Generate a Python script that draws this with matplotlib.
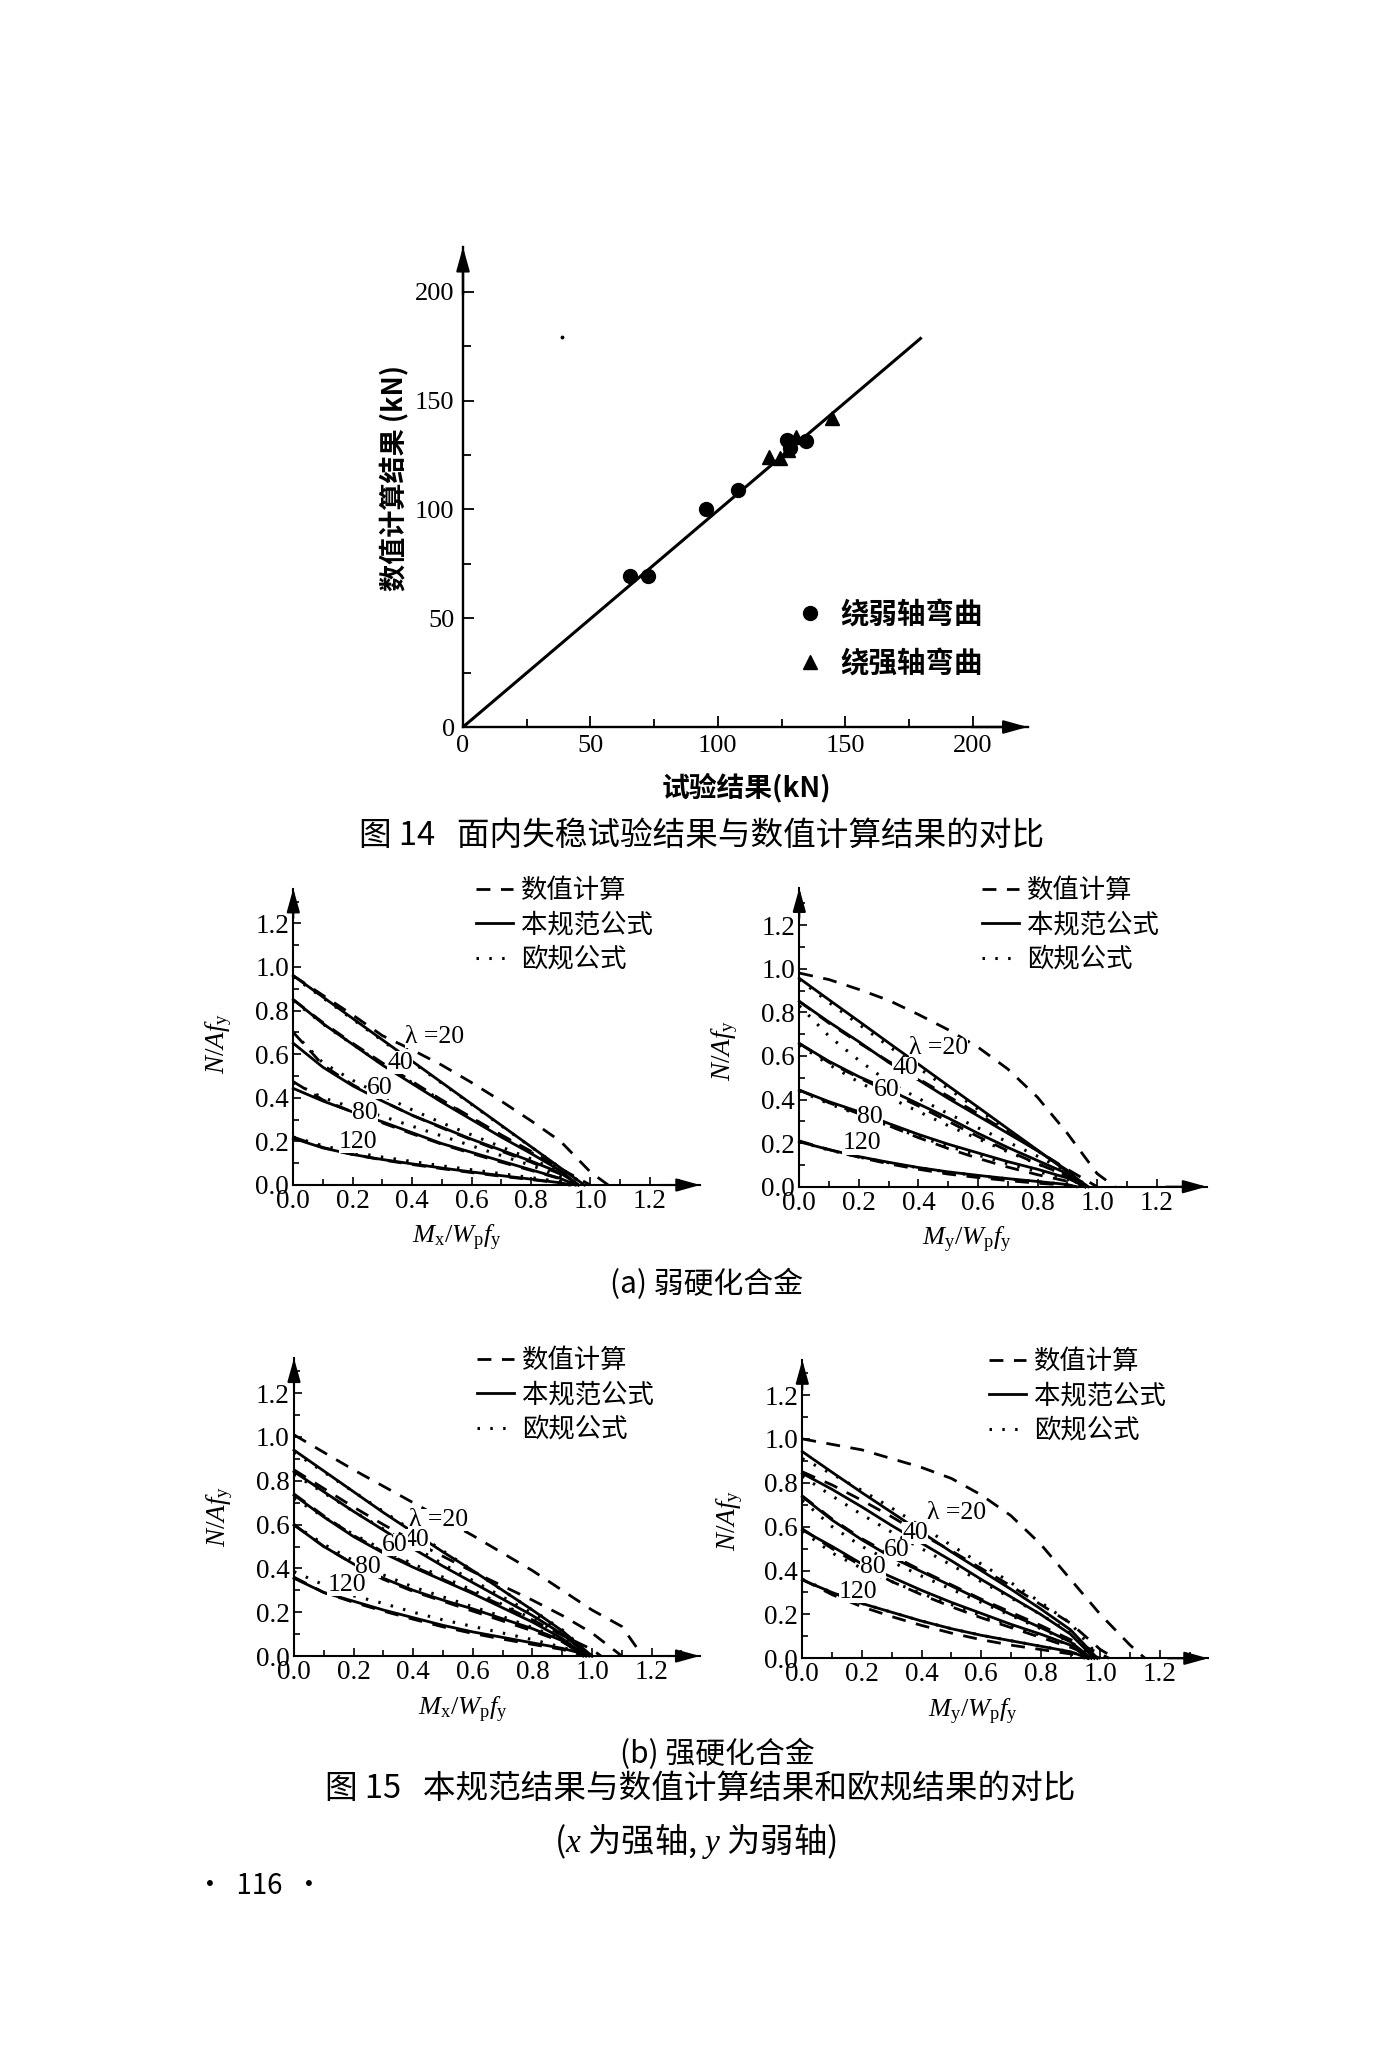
import matplotlib
matplotlib.use('Agg')
import matplotlib.pyplot as plt
from matplotlib.lines import Line2D
from matplotlib.ticker import MultipleLocator, FormatStrFormatter

plt.rcParams['font.family'] = ['Noto Sans CJK SC', 'DejaVu Sans']
plt.rcParams['mathtext.fontset'] = 'custom'
plt.rcParams['mathtext.rm'] = 'Liberation Serif'
plt.rcParams['mathtext.it'] = 'Liberation Serif:italic'
plt.rcParams['mathtext.bf'] = 'Liberation Serif:bold'
plt.rcParams['axes.unicode_minus'] = False
SERIF = ['Liberation Serif', 'DejaVu Serif']
CJK = ['Noto Sans CJK SC', 'DejaVu Sans']

# ---------------- Figure 14 data ----------------
WEAK_X = [65.6, 72.6, 95.5, 107.8, 127.0, 128.5, 134.6]
WEAK_Y = [69.4, 69.4, 100.2, 109.0, 131.8, 128.0, 131.3]
STRONG_X = [120.1, 124.5, 127.5, 130.5, 144.8]
STRONG_Y = [123.9, 123.5, 127.5, 133.2, 142.0]
FIT_X = [0, 180]
FIT_Y = [0, 179]
SPECK_X = [39]
SPECK_Y = [179]
TOP_TICKS = [0, 50, 100, 150, 200]
TOP_LEGEND = ['绕弱轴弯曲', '绕强轴弯曲']

# ---------------- Figure 15 data ----------------
GRID = [0.0, 0.1, 0.2, 0.3, 0.4, 0.5, 0.6, 0.7, 0.8, 0.9, 1.0, 1.1]
LAMBDAS = [20, 40, 60, 80, 120]
SERIES_LABELS = ['数值计算', '本规范公式', '欧规公式']
PANEL_TICKS = [0.0, 0.2, 0.4, 0.6, 0.8, 1.0, 1.2]

# (a) weak hardening, Mx
A_MX_CODE = {20: [.96, .862, .764, .666, .568, .470, .372, .274, .176, .078],
             40: [.85, .74, .645, .55, .465, .38, .30, .22, .145, .065],
             60: [.65, .54, .455, .385, .32, .265, .21, .16, .11, .055],
             80: [.443, .385, .335, .29, .24, .19, .15, .11, .07, .03],
             120: [.214, .17, .14, .117, .097, .078, .06, .043, .027, .01]}
A_MX_CODE_END = {20: .98, 40: .96, 60: .96, 80: .95, 120: .93}
A_MX_NUM = {20: [.96, .87, .78, .685, .62, .55, .47, .385, .295, .20, .06],
            40: [.85, .745, .65, .56, .475, .39, .31, .23, .155, .075],
            60: [.70, .55, .46, .385, .32, .262, .207, .155, .105, .05],
            80: [.474, .39, .335, .285, .235, .187, .145, .105, .067, .028],
            120: [.22, .172, .14, .115, .094, .075, .057, .04, .025, .009]}
A_MX_NUM_END = {20: 1.06, 40: 1.0, 60: .95, 80: .95, 120: .93}
A_MX_EC = {20: [.955, .858, .76, .662, .564, .467, .37, .272, .175, .078],
           40: [.845, .738, .645, .553, .47, .387, .307, .228, .15, .07],
           60: [.70, .56, .48, .41, .345, .285, .23, .175, .12, .06],
           80: [.47, .40, .355, .315, .27, .225, .18, .135, .09, .04],
           120: [.22, .18, .15, .128, .108, .088, .07, .052, .034, .015]}
A_MX_EC_END = {20: .98, 40: .96, 60: .95, 80: .95, 120: .93}

# (a) weak hardening, My
A_MY_CODE = {20: [.956, .857, .759, .66, .562, .463, .365, .266, .168, .069],
             40: [.85, .755, .665, .57, .49, .405, .325, .245, .165, .075],
             60: [.657, .575, .505, .445, .38, .315, .245, .18, .12, .06],
             80: [.443, .39, .344, .29, .24, .195, .155, .115, .08, .04],
             120: [.206, .17, .138, .112, .088, .068, .052, .037, .024, .01]}
A_MY_CODE_END = {20: .97, 40: .96, 60: .96, 80: .96, 120: .93}
A_MY_NUM = {20: [.98, .95, .905, .855, .79, .72, .64, .54, .41, .245, .06],
            40: [.85, .75, .66, .575, .495, .415, .335, .25, .165, .08],
            60: [.657, .57, .50, .435, .37, .30, .23, .165, .105, .05],
            80: [.443, .385, .335, .28, .225, .175, .13, .09, .055, .025],
            120: [.21, .17, .135, .105, .08, .058, .042, .028, .016, .007]}
A_MY_NUM_END = {20: 1.06, 40: 1.0, 60: .95, 80: .93, 120: .92}
A_MY_EC = {20: [.95, .845, .745, .645, .545, .45, .355, .26, .165, .07],
           40: [.83, .69, .58, .48, .405, .335, .27, .205, .14, .07],
           60: [.65, .56, .48, .41, .345, .28, .22, .16, .105, .05],
           80: [.44, .38, .33, .28, .23, .185, .145, .105, .07, .035],
           120: [.206, .168, .136, .11, .087, .067, .05, .036, .023, .01]}
A_MY_EC_END = {20: .97, 40: .96, 60: .95, 80: .95, 120: .93}

# (b) strong hardening, Mx
B_MX_CODE = {20: [.94, .845, .75, .655, .565, .475, .39, .30, .21, .115],
             40: [.842, .75, .66, .575, .49, .41, .335, .26, .185, .10],
             60: [.735, .635, .545, .47, .405, .345, .285, .22, .155, .08],
             80: [.598, .50, .42, .355, .30, .255, .215, .17, .125, .07],
             120: [.355, .29, .25, .21, .175, .14, .11, .085, .06, .035]}
B_MX_CODE_END = {20: 1.0, 40: .99, 60: .98, 80: .97, 120: 1.0}
B_MX_NUM = {20: [1.01, .93, .85, .775, .70, .625, .55, .47, .39, .30, .21, .135],
            40: [.85, .765, .68, .60, .525, .455, .385, .32, .255, .185, .105],
            60: [.74, .64, .55, .475, .41, .35, .29, .23, .165, .095, .03],
            80: [.60, .50, .42, .35, .295, .25, .205, .16, .115, .065],
            120: [.36, .29, .245, .205, .168, .133, .103, .077, .053, .03]}
B_MX_NUM_END = {20: 1.17, 40: 1.1, 60: 1.03, 80: .98, 120: .98}
B_MX_EC = {20: [.93, .84, .75, .66, .57, .48, .39, .30, .21, .12],
           40: [.83, .745, .66, .58, .50, .42, .345, .27, .195, .11],
           60: [.72, .635, .555, .485, .42, .36, .30, .235, .17, .095],
           80: [.60, .51, .435, .37, .315, .27, .225, .18, .13, .075],
           120: [.385, .325, .275, .24, .20, .165, .135, .105, .075, .04]}
B_MX_EC_END = {20: 1.0, 40: .99, 60: .99, 80: .98, 120: .99}

# (b) strong hardening, My
B_MY_CODE = {20: [.942, .848, .755, .665, .575, .485, .40, .315, .225, .13],
             40: [.843, .77, .69, .605, .525, .445, .36, .28, .20, .11],
             60: [.737, .63, .54, .46, .395, .33, .265, .20, .14, .075],
             80: [.585, .51, .43, .37, .31, .255, .205, .155, .11, .06],
             120: [.357, .30, .25, .21, .17, .135, .105, .08, .055, .03]}
B_MY_CODE_END = {20: .99, 40: .98, 60: .97, 80: .96, 120: .96}
B_MY_NUM = {20: [1.0, .975, .95, .91, .87, .82, .745, .65, .52, .36, .20, .06],
            40: [.85, .79, .72, .645, .565, .49, .41, .33, .245, .16, .04],
            60: [.74, .635, .545, .47, .40, .335, .27, .21, .15, .085, .02],
            80: [.59, .50, .42, .35, .29, .235, .185, .14, .095, .05],
            120: [.36, .29, .235, .19, .15, .115, .085, .06, .04, .02]}
B_MY_NUM_END = {20: 1.15, 40: 1.05, 60: 1.03, 80: 1.0, 120: .95}
B_MY_EC = {20: [.91, .84, .765, .685, .60, .515, .43, .345, .255, .16],
           40: [.83, .74, .655, .575, .50, .425, .35, .275, .20, .115],
           60: [.72, .60, .51, .44, .375, .315, .255, .195, .135, .075],
           80: [.58, .48, .41, .35, .295, .245, .195, .15, .105, .06],
           120: [.36, .30, .25, .21, .17, .135, .105, .08, .055, .03]}
B_MY_EC_END = {20: 1.0, 40: .99, 60: .98, 80: .97, 120: .96}

# ---------------- layout helpers (full-size pixel coords) ----------------
W, H = 1374, 2048
fig = plt.figure(figsize=(W / 100, H / 100), dpi=100)
fig.patch.set_facecolor('white')


def fx(px):
    return px / W


def fy(py):
    return 1 - py / H


def add_axes_px(left, bottom, width, height):
    return fig.add_axes([fx(left), fy(bottom), width / W, height / H])


def arrow_axes(ax, lw=1.5):
    for s in ['top', 'right']:
        ax.spines[s].set_visible(False)
    for s in ['left', 'bottom']:
        ax.spines[s].set_linewidth(lw)
    style = '-|>,head_length=0.9,head_width=0.25'
    ax.annotate('', xy=(1.0, 0), xytext=(0.9, 0), xycoords='axes fraction',
                arrowprops=dict(arrowstyle=style, color='k', lw=lw, shrinkA=0,
                                shrinkB=0, mutation_scale=16),
                annotation_clip=False)
    ax.annotate('', xy=(0, 1.0), xytext=(0, 0.9), xycoords='axes fraction',
                arrowprops=dict(arrowstyle=style, color='k', lw=lw, shrinkA=0,
                                shrinkB=0, mutation_scale=16),
                annotation_clip=False)


# ---------------- Figure 14 ----------------
ox, oy = 463, 727
ux, uy = 2.548, 2.176
xmax, ymax = 221.6, 220.6
ax0 = add_axes_px(ox, oy, xmax * ux, ymax * uy)
ax0.set_xlim(0, xmax)
ax0.set_ylim(0, ymax)
arrow_axes(ax0, lw=1.7)
ax0.plot(FIT_X, FIT_Y, color='k', lw=2.2, solid_capstyle='butt')
ax0.plot(WEAK_X, WEAK_Y, 'o', color='k', ms=10, ls='none')
ax0.plot(STRONG_X, STRONG_Y, '^', color='k', ms=10.5, ls='none')
ax0.plot(SPECK_X, SPECK_Y, '.', color='k', ms=3.5, ls='none')
ax0.set_xticks(TOP_TICKS)
ax0.set_yticks(TOP_TICKS)
ax0.xaxis.set_minor_locator(MultipleLocator(25))
ax0.yaxis.set_minor_locator(MultipleLocator(25))
ax0.tick_params(which='both', direction='in', width=1.3)
ax0.tick_params(which='major', length=8, labelsize=19, pad=6)
ax0.tick_params(which='minor', length=6)
for lab in ax0.get_xticklabels() + ax0.get_yticklabels():
    lab.set_fontfamily(SERIF)
h1 = Line2D([], [], marker='o', color='k', ls='none', ms=10)
h2 = Line2D([], [], marker='^', color='k', ls='none', ms=10.5)
ax0.legend([h1, h2], TOP_LEGEND, loc='upper left', frameon=False,
           bbox_to_anchor=(fx(796), fy(601)), bbox_transform=fig.transFigure,
           prop={'family': CJK, 'size': 20.5, 'weight': 'bold'}, handlelength=1.0,
           handletextpad=0.55, labelspacing=0.75, borderpad=0, borderaxespad=0)
fig.text(fx(394), fy(478), '数值计算结果 (kN)', rotation=90, ha='center', va='center',
         fontsize=19.5, family=CJK, weight='bold')
fig.text(fx(746), fy(787.5), '试验结果(kN)', ha='center', va='center',
         fontsize=20, family=CJK, weight='bold')
fig.text(fx(702), fy(836), '图 14   面内失稳试验结果与数值计算结果的对比', ha='center',
         va='center', fontsize=23.5, family=CJK, weight='medium')

# ---------------- Figure 15 panels ----------------
DASH = (0, (5.0, 3.8))
DOT = (0, (0.8, 3.4))
LW = 2.0


def curve_xy(values, end):
    xs = GRID[:len(values)] + [end]
    ys = list(values) + [0.0]
    return xs, ys


def draw_panel(origin, unit, lim, code, code_end, num, num_end, ec, ec_end,
               lam_pos, legend_px, ylabel_px, xlabel_px, xlabel_txt):
    ox, oy = origin
    ux, uy = unit
    xm, ym = lim
    ax = add_axes_px(ox, oy, xm * ux, ym * uy)
    ax.set_xlim(0, xm)
    ax.set_ylim(0, ym)
    arrow_axes(ax, lw=1.5)
    for lam in LAMBDAS:
        x, y = curve_xy(num[lam], num_end[lam])
        ax.plot(x, y, color='k', lw=LW, ls=DASH, clip_on=False)
        x, y = curve_xy(ec[lam], ec_end[lam])
        ax.plot(x, y, color='k', lw=2.2, ls=DOT, clip_on=False)
        x, y = curve_xy(code[lam], code_end[lam])
        ax.plot(x, y, color='k', lw=LW, clip_on=False)
    for lam, (lx, ly) in zip(LAMBDAS, lam_pos):
        txt = 'λ =20' if lam == 20 else str(lam)
        ax.text(lx, ly, txt, ha='center', va='center', fontsize=18.5, family=SERIF,
                bbox=dict(facecolor='white', edgecolor='none', pad=0.2))
    ax.set_xticks(PANEL_TICKS)
    ax.set_yticks(PANEL_TICKS)
    ax.xaxis.set_minor_locator(MultipleLocator(0.1))
    ax.yaxis.set_minor_locator(MultipleLocator(0.1))
    ax.xaxis.set_major_formatter(FormatStrFormatter('%.1f'))
    ax.yaxis.set_major_formatter(FormatStrFormatter('%.1f'))
    ax.tick_params(which='both', direction='in', width=1.2)
    ax.tick_params(which='major', length=6, labelsize=19.5, pad=3)
    ax.tick_params(which='minor', length=4)
    for lab in ax.get_xticklabels() + ax.get_yticklabels():
        lab.set_fontfamily(SERIF)
    hs = [Line2D([], [], color='k', lw=LW, ls=DASH),
          Line2D([], [], color='k', lw=LW),
          Line2D([], [], color='k', lw=2.2, ls=DOT)]
    ax.legend(hs, SERIES_LABELS, loc='upper left', frameon=False,
              bbox_to_anchor=(fx(legend_px[0]), fy(legend_px[1])),
              bbox_transform=fig.transFigure,
              prop={'family': CJK, 'size': 19, 'weight': 'medium'}, handlelength=1.4,
              handletextpad=0.3, labelspacing=0.28, borderpad=0, borderaxespad=0)
    fig.text(fx(ylabel_px[0]), fy(ylabel_px[1]), r'$N/Af_\mathrm{y}$', rotation=90,
             ha='center', va='center', fontsize=19.5)
    fig.text(fx(xlabel_px[0]), fy(xlabel_px[1]), xlabel_txt, ha='center', va='center',
             fontsize=19)
    return ax


MX_LABEL = r'$M_\mathrm{x}/W_\mathrm{p}f_\mathrm{y}$'
MY_LABEL = r'$M_\mathrm{y}/W_\mathrm{p}f_\mathrm{y}$'

draw_panel((293.3, 1185), (297, 218), (1.37, 1.36),
           A_MX_CODE, A_MX_CODE_END, A_MX_NUM, A_MX_NUM_END, A_MX_EC, A_MX_EC_END,
           [(0.477, 0.68), (0.36, 0.561), (0.292, 0.445), (0.241, 0.33), (0.219, 0.199)],
           (476, 877), (218.3, 1043.3), (456.7, 1238.3), MX_LABEL)
draw_panel((799.3, 1186.7), (297.8, 218), (1.368, 1.37),
           A_MY_CODE, A_MY_CODE_END, A_MY_NUM, A_MY_NUM_END, A_MY_EC, A_MY_EC_END,
           [(0.467, 0.635), (0.355, 0.543), (0.293, 0.444), (0.237, 0.321), (0.21, 0.199)],
           (982, 877), (725, 1050), (966.7, 1240), MY_LABEL)
draw_panel((294, 1656), (298, 219), (1.362, 1.36),
           B_MX_CODE, B_MX_CODE_END, B_MX_NUM, B_MX_NUM_END, B_MX_EC, B_MX_EC_END,
           [(0.484, 0.621), (0.412, 0.53), (0.339, 0.507), (0.249, 0.408), (0.177, 0.324)],
           (477, 1347), (220, 1516.7), (463.3, 1710), MX_LABEL)
draw_panel((802.3, 1658.3), (298, 219.4), (1.362, 1.36),
           B_MY_CODE, B_MY_CODE_END, B_MY_NUM, B_MY_NUM_END, B_MY_EC, B_MY_EC_END,
           [(0.518, 0.661), (0.378, 0.57), (0.317, 0.494), (0.238, 0.418), (0.188, 0.304)],
           (989, 1348), (730, 1520), (973.3, 1711.7), MY_LABEL)

fig.text(fx(707), fy(1284), '(a) 弱硬化合金', ha='center', va='center', fontsize=21.5, family=CJK)
fig.text(fx(717), fy(1754), '(b) 强硬化合金', ha='center', va='center', fontsize=21.5, family=CJK)
fig.text(fx(700), fy(1789), '图 15   本规范结果与数值计算结果和欧规结果的对比', ha='center',
         va='center', fontsize=23.5, family=CJK, weight='medium')
fig.text(fx(695), fy(1841), '($x$ 为强轴, $y$ 为弱轴)', ha='center', va='center',
         fontsize=24, family=CJK, weight='medium')
fig.text(fx(196), fy(1886), '•  116  •', ha='left', va='center', fontsize=20, family=CJK)

fig.savefig('out.png', dpi=100, facecolor='white')
